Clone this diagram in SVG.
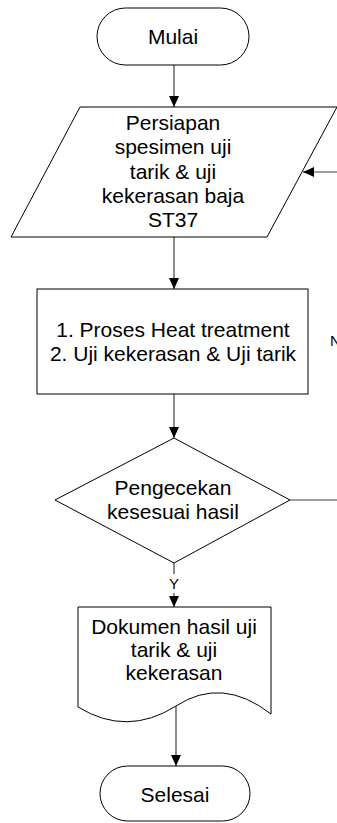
<svg xmlns="http://www.w3.org/2000/svg" width="337" height="823" viewBox="0 0 337 823">
<style>
.s{fill:#fff;stroke:#000;stroke-width:1}
.c{fill:none;stroke:#404040;stroke-width:1.2}
text{font-family:"Liberation Sans",Arial,sans-serif;font-size:21px;fill:#000;text-anchor:middle}
.sm{font-size:15px}
</style>
<defs>
<marker id="a" markerUnits="userSpaceOnUse" markerWidth="12" markerHeight="12" viewBox="0 0 12 12" refX="11" refY="6" orient="auto">
<path d="M0,1 L11,6 L0,11 Z" fill="#000"/>
</marker>
</defs>
<g id="connectors">
<line class="c" x1="174" y1="65" x2="174" y2="107" marker-end="url(#a)"/>
<line class="c" x1="174" y1="237" x2="174" y2="289" marker-end="url(#a)"/>
<line class="c" x1="174" y1="394" x2="174" y2="438" marker-end="url(#a)"/>
<line class="c" x1="174" y1="563" x2="174" y2="574"/>
<line class="c" x1="174" y1="593" x2="174" y2="607" marker-end="url(#a)"/>
<text class="sm" x="174" y="589">Y</text>
<line class="c" x1="290" y1="500" x2="337" y2="500"/>
<line class="c" x1="337" y1="172" x2="303" y2="172" marker-end="url(#a)"/>
<line class="c" x1="176" y1="706" x2="176" y2="766" marker-end="url(#a)"/>
<text class="sm" x="330" y="346" style="text-anchor:start">N</text>
</g>
<g id="mulai">
<rect class="s" x="97" y="8" width="152" height="57" rx="28.5"/>
<text x="173" y="44">Mulai</text>
</g>
<g id="persiapan">
<path class="s" d="M80,107 L337,107 L267,237 L11,237 Z"/>
<text x="173" y="130">Persiapan</text>
<text x="173" y="154">spesimen uji</text>
<text x="173" y="179">tarik &amp; uji</text>
<text x="173" y="203">kekerasan baja</text>
<text x="173" y="227">ST37</text>
</g>
<g id="proses">
<rect class="s" x="37" y="289" width="271" height="105"/>
<text x="173" y="337">1. Proses Heat treatment</text>
<text x="173" y="361">2. Uji kekerasan &amp; Uji tarik</text>
</g>
<g id="pengecekan">
<path class="s" d="M174,438 L290,500 L174,563 L55,500 Z"/>
<text x="173" y="495">Pengecekan</text>
<text x="173" y="519">kesesuai hasil</text>
</g>
<g id="dokumen">
<path class="s" d="M78,607 L271,607 L271,714 Q222,676 176,706 Q127,737 78,707 Z"/>
<text x="174" y="634">Dokumen hasil uji</text>
<text x="174" y="657">tarik &amp; uji</text>
<text x="174" y="680">kekerasan</text>
</g>
<g id="selesai">
<rect class="s" x="100" y="766" width="150" height="55" rx="27.5"/>
<text x="175" y="802">Selesai</text>
</g>
</svg>
